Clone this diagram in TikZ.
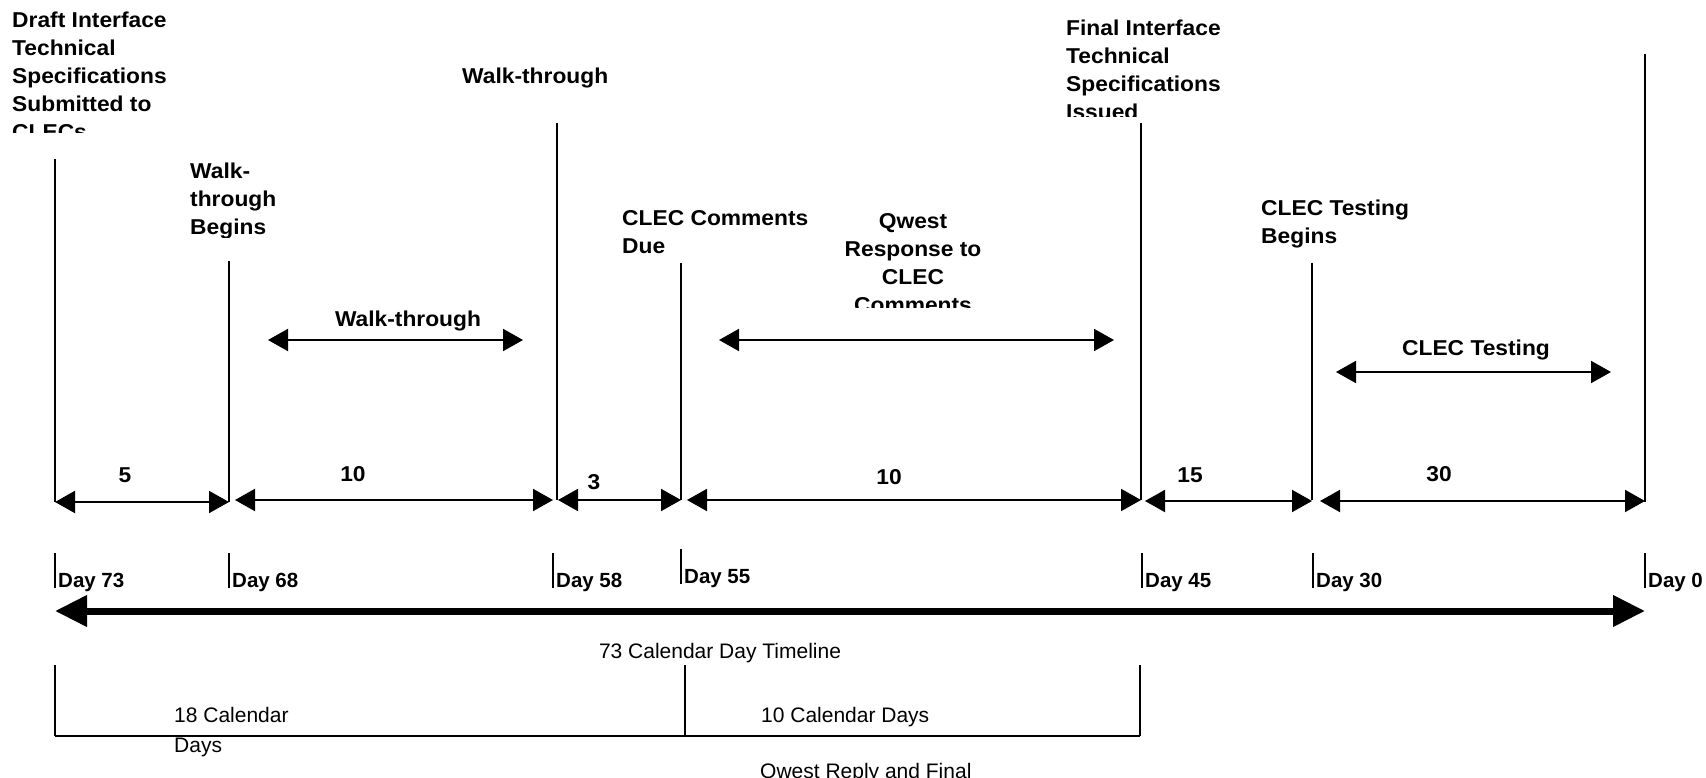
\documentclass[tikz,border=0pt]{standalone}
\usepackage{fontspec}
\setmainfont{Liberation Sans}
\newfontfamily\bfam{Liberation Sans}[FakeStretch=1.06]
\usetikzlibrary{arrows.meta}
\begin{document}
\begin{tikzpicture}[x=1pt,y=-1pt,
  bl/.style={font=\bfam\bfseries\fontsize{21.5}{28}\selectfont, inner sep=0pt, align=left},
  dl/.style={font=\bfseries\fontsize{20.5}{24}\selectfont, inner sep=0pt},
  rg/.style={font=\fontsize{21}{30}\selectfont, inner sep=0pt, align=left},
  vline/.style={line width=2pt},
  tick/.style={line width=1.5pt},
  dim/.style={line width=2pt, >={Triangle[length=20pt,width=22pt]}, <->},
  big/.style={line width=7pt, >={Triangle[length=32pt,width=30pt]}, <->},
  brk/.style={line width=1.5pt}]
\useasboundingbox (0,0) rectangle (1706,778);

% ---- milestone labels (some clipped like the source text boxes)
\begin{scope}
  \clip (0,0) rectangle (300,133);
  \node[bl, anchor=north west] (draft) at (12,12) {Draft Interface\\Technical\\Specifications\\Submitted to\\CLECs};
\end{scope}
\begin{scope}
  \clip (150,150) rectangle (320,238);
  \node[bl, anchor=north west] (wtb) at (190,163) {Walk-\\through\\Begins};
\end{scope}
\node[bl, anchor=north west] (wt) at (462,68) {Walk-through};
\node[bl, anchor=north west] (ccd) at (622,210) {CLEC Comments\\Due};
\begin{scope}
  \clip (780,200) rectangle (1050,307);
  \node[bl, anchor=north, align=center] (qr) at (913,213) {Qwest\\Response to\\CLEC\\Comments};
\end{scope}
\begin{scope}
  \clip (1040,0) rectangle (1300,117);
  \node[bl, anchor=north west] (fin) at (1066,20) {Final Interface\\Technical\\Specifications\\Issued};
\end{scope}
\node[bl, anchor=north west] (ctb) at (1261,200) {CLEC Testing\\Begins};

% ---- vertical milestone lines
\coordinate (v73t) at (55,159);   \coordinate (v73b) at (55,502);
\coordinate (v68t) at (229,261);  \coordinate (v68b) at (229,502);
\coordinate (v58t) at (557,123);  \coordinate (v58b) at (557,500);
\coordinate (v55t) at (681,263);  \coordinate (v55b) at (681,500);
\coordinate (v45t) at (1141,123); \coordinate (v45b) at (1141,500);
\coordinate (v30t) at (1312,263); \coordinate (v30b) at (1312,500);
\coordinate (v0t) at (1645,54);   \coordinate (v0b) at (1645,502);
\foreach \n in {73,68,58,55,45,30,0} \draw[vline] (v\n t) -- (v\n b);

% ---- phase arrows with labels
\coordinate (w1a) at (268,340); \coordinate (w1b) at (523,340);
\coordinate (q1a) at (719,340); \coordinate (q1b) at (1114,340);
\coordinate (c1a) at (1336,372); \coordinate (c1b) at (1611,372);
\draw[dim] (w1a) -- (w1b);
\draw[dim] (q1a) -- (q1b);
\draw[dim] (c1a) -- (c1b);
\node[bl, anchor=base] (wlab) at (408,326) {Walk-through};
\node[bl, anchor=base] (clab) at (1476,355) {CLEC Testing};

% ---- duration arrows
\coordinate (d1a) at (55,502);   \coordinate (d1b) at (229,502);
\coordinate (d2a) at (235,500);  \coordinate (d2b) at (553,500);
\coordinate (d3a) at (558,500);  \coordinate (d3b) at (681,500);
\coordinate (d4a) at (687,500);  \coordinate (d4b) at (1141,500);
\coordinate (d5a) at (1145,501); \coordinate (d5b) at (1312,501);
\coordinate (d6a) at (1320,501); \coordinate (d6b) at (1645,501);
\foreach \n in {1,...,6} \draw[dim] (d\n a) -- (d\n b);
\node[bl] (n5) at (125,475) {5};
\node[bl] (n10a) at (353,474) {10};
\node[bl] (n3) at (594,482) {3};
\node[bl] (n10b) at (889,477) {10};
\node[bl] (n15) at (1190,475) {15};
\node[bl] (n30) at (1439,474) {30};

% ---- day ticks and labels
\foreach \x/\d in {55/73,229/68,553/58,1142/45,1313/30,1645/0} {
  \coordinate (k\d t) at (\x,553); \coordinate (k\d b) at (\x,588);
  \draw[tick] (k\d t) -- (k\d b);
  \node[dl, anchor=north west] (day\d) at (\x+3,573) {Day \d};
}
\coordinate (k55t) at (681,549); \coordinate (k55b) at (681,584);
\draw[tick] (k55t) -- (k55b);
\node[dl, anchor=north west] (day55) at (684,569) {Day 55};

% ---- main timeline
\coordinate (tl) at (55,611); \coordinate (tr) at (1645,611);
\draw[big] (tl) -- (tr);
\node[rg, anchor=base] (tlab) at (720,658) {73 Calendar Day Timeline};

% ---- bottom bracket
\coordinate (b1t) at (55,665);   \coordinate (b1b) at (55,736);
\coordinate (b2t) at (685,665);  \coordinate (b2b) at (685,736);
\coordinate (b3t) at (1140,665); \coordinate (b3b) at (1140,736);
\draw[brk] (b1t) -- (b1b);
\draw[brk] (b2t) -- (b2b);
\draw[brk] (b3t) -- (b3b);
\draw[line width=2pt] (b1b) -- (b3b);
\node[rg, anchor=north west] (c18) at (174,707) {18 Calendar\\Days};
\node[rg, anchor=north west] (c10) at (761,707) {10 Calendar Days};
\begin{scope}
  \clip (700,740) rectangle (1100,778);
  \node[rg, anchor=north west] (qrf) at (760,763) {Qwest Reply and Final};
\end{scope}
\end{tikzpicture}
\end{document}
